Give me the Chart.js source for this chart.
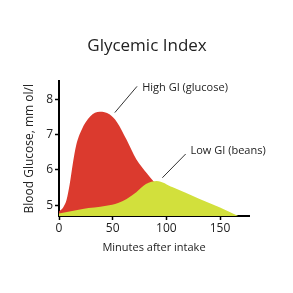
<!DOCTYPE html>
<html>
<head>
<meta charset="utf-8">
<script src="https://cdn.jsdelivr.net/npm/chart.js@4.4.1/dist/chart.umd.min.js"></script>
<style>
  html, body { margin: 0; padding: 0; background: #fff; }
  #wrap { width: 293px; height: 293px; }
</style>
</head>
<body>
<div id="wrap"><canvas id="chart-gi"></canvas></div>
<script>
// minutes after intake / blood glucose (mmol/l)
var highTime    = [0, 4, 7, 10, 13, 16, 21, 29, 38, 47, 54, 63, 72, 82, 88, 100, 120, 145, 165];
var highGlucose = [4.83, 4.95, 5.15, 5.6, 6.2, 6.7, 7.13, 7.51, 7.64, 7.57, 7.35, 6.85, 6.3, 5.9, 5.68, 5.35, 5.0, 4.75, 4.7];
var lowTime     = [0, 22, 44, 55, 63, 72, 81, 91, 106, 131, 150, 167];
var lowGlucose  = [4.77, 4.9, 4.99, 5.07, 5.18, 5.37, 5.6, 5.69, 5.51, 5.18, 4.94, 4.7];
var xTicks = [0, 50, 100, 150];
var yTicks = [5, 6, 7, 8];
var seriesNames = ["High GI (glucose)", "Low GI (beans)"];

function toPoints(xs, ys) {
  var pts = [];
  for (var i = 0; i < xs.length; i++) {
    pts.push({ x: xs[i], y: ys[i] });
  }
  return pts;
}

var font = "'Open Sans', sans-serif";

// callout lines + labels, placed in data units
var callouts = {
  id: "callouts",
  afterDraw: function (chart) {
    var ctx = chart.ctx;
    var xs = chart.scales.x, ys = chart.scales.y;
    var items = [
      { text: seriesNames[0], from: [52, 7.62], to: [72.7, 8.36], at: [77.5, 8.31] },
      { text: seriesNames[1], from: [96.3, 5.78], to: [118, 6.45], at: [122.5, 6.54] }
    ];
    ctx.save();
    ctx.strokeStyle = "#333";
    ctx.lineWidth = 1;
    ctx.fillStyle = "#222";
    ctx.font = "11px " + font;
    ctx.textBaseline = "middle";
    items.forEach(function (it) {
      ctx.beginPath();
      ctx.moveTo(xs.getPixelForValue(it.from[0]), ys.getPixelForValue(it.from[1]));
      ctx.lineTo(xs.getPixelForValue(it.to[0]), ys.getPixelForValue(it.to[1]));
      ctx.stroke();
      ctx.fillText(it.text, xs.getPixelForValue(it.at[0]), ys.getPixelForValue(it.at[1]));
    });
    ctx.restore();
  }
};

var ctx = document.getElementById("chart-gi").getContext("2d");
new Chart(ctx, {
  type: "line",
  data: {
    datasets: [
      {
        label: seriesNames[0],
        data: toPoints(highTime, highGlucose),
        borderWidth: 0,
        pointRadius: 0,
        cubicInterpolationMode: "monotone",
        backgroundColor: "#db3a2e",
        borderColor: "#db3a2e",
        fill: "start",
        order: 2
      },
      {
        label: seriesNames[1],
        data: toPoints(lowTime, lowGlucose),
        borderWidth: 0,
        pointRadius: 0,
        cubicInterpolationMode: "monotone",
        backgroundColor: "#d2e03c",
        borderColor: "#d2e03c",
        fill: "start",
        order: 1
      }
    ]
  },
  options: {
    responsive: true,
    maintainAspectRatio: false,
    animation: false,
    layout: {
      padding: { left: 22, right: 21, top: 0, bottom: 39 }
    },
    plugins: {
      legend: { display: false },
      tooltip: { enabled: false },
      title: {
        display: true,
        text: "Glycemic Index",
        color: "#222",
        font: { family: font, size: 17, weight: "normal" },
        padding: { top: 36, bottom: 25 }
      }
    },
    scales: {
      x: {
        type: "linear",
        min: 0,
        max: 177,
        afterBuildTicks: function (s) {
          s.ticks = xTicks.map(function (v) { return { value: v }; });
        },
        afterFit: function (s) { s.height = 38; },
        border: { color: "#000", width: 2 },
        grid: { drawOnChartArea: false, drawTicks: true, tickLength: 4, color: "#000", tickWidth: 1.5 },
        ticks: { color: "#222", padding: 1, maxRotation: 0, font: { family: font, size: 12 } },
        title: {
          display: true,
          text: "Minutes after intake",
          color: "#222",
          padding: 0,
          font: { family: font, size: 11 }
        }
      },
      y: {
        min: 4.7,
        max: 8.5,
        afterBuildTicks: function (s) {
          s.ticks = yTicks.map(function (v) { return { value: v }; });
        },
        afterFit: function (s) { s.width = 37; },
        border: { color: "#000", width: 2 },
        grid: { drawOnChartArea: false, drawTicks: true, tickLength: 4, color: "#000", tickWidth: 1.5 },
        ticks: { color: "#222", padding: 2, font: { family: font, size: 12 } },
        title: {
          display: true,
          text: "Blood Glucose, mm ol/l",
          color: "#222",
          padding: 0,
          font: { family: font, size: 12 }
        }
      },
      // empty right-hand spacer so the title centres like the original
      yRight: {
        position: "right",
        min: 4.7,
        max: 8.5,
        afterFit: function (s) { s.width = 23; },
        border: { display: false },
        grid: { display: false },
        ticks: { display: false }
      }
    }
  },
  plugins: [callouts]
});
</script>
</body>
</html>
